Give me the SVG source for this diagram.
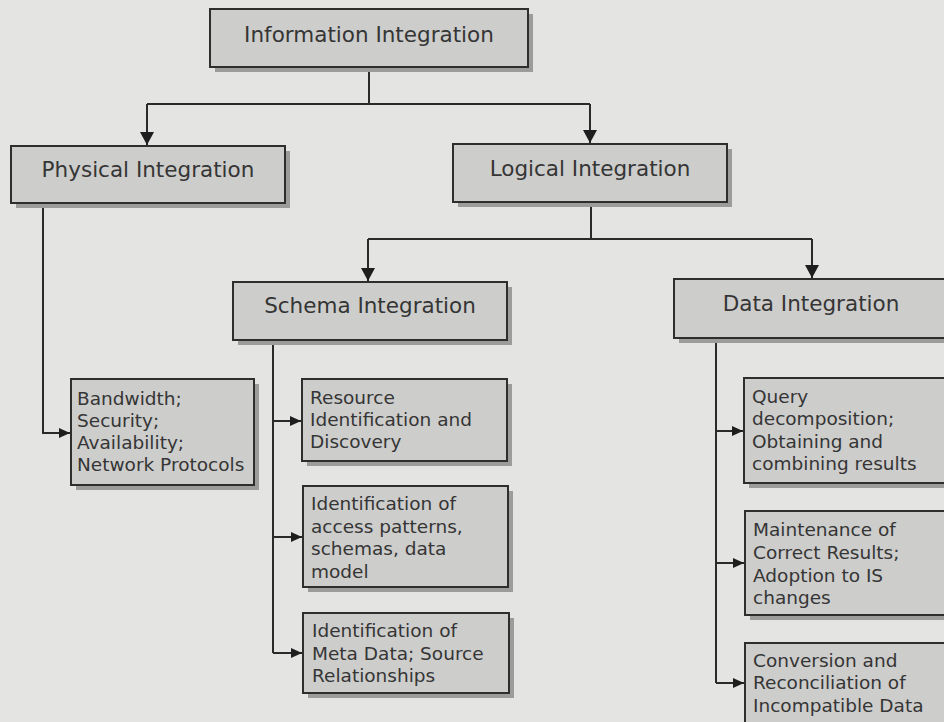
<svg xmlns="http://www.w3.org/2000/svg" width="944" height="722" viewBox="0 0 944 722">
  <style>
    .bg { fill: #e4e4e2; }
    .box { fill: #cdcdcc; stroke: #2e2e2e; stroke-width: 2; }
    .shadow { fill: #9c9c9b; }
    .title { font-family: "DejaVu Sans", Verdana, sans-serif; font-size: 21.5px; fill: #353535; text-anchor: middle; }
    .body { font-family: "DejaVu Sans", Verdana, sans-serif; font-size: 18.5px; fill: #353535; }
    .wire { fill: none; stroke: #2a2a2a; stroke-width: 2; }
  </style>
  <defs>
    <!-- both heads point along +x; orient="auto" turns them with the line -->
    <marker id="down" markerUnits="userSpaceOnUse" markerWidth="14" markerHeight="14" refX="13" refY="7" orient="auto" viewBox="0 0 14 14">
      <path d="M0,0 L13,7 L0,14 Z" fill="#1e1e1e"/>
    </marker>
    <marker id="side" markerUnits="userSpaceOnUse" markerWidth="12" markerHeight="12" refX="11" refY="6" orient="auto" viewBox="0 0 12 12">
      <path d="M0,1 L11,6 L0,11 Z" fill="#1e1e1e"/>
    </marker>
  </defs>

  <rect class="bg" x="0" y="0" width="944" height="722"/>

  <!-- connectors -->
  <g id="connectors">
    <path class="wire" d="M369,67 V104"/>
    <path class="wire" d="M147,104 H590"/>
    <path class="wire" d="M147,104 V145" marker-end="url(#down)"/>
    <path class="wire" d="M590,104 V143" marker-end="url(#down)"/>

    <path class="wire" d="M591,202 V239"/>
    <path class="wire" d="M368,239 H812"/>
    <path class="wire" d="M368,239 V281" marker-end="url(#down)"/>
    <path class="wire" d="M812,239 V278" marker-end="url(#down)"/>

    <path class="wire" d="M43,203 V433 H70" marker-end="url(#side)"/>

    <path class="wire" d="M273,340 V653"/>
    <path class="wire" d="M273,421 H301" marker-end="url(#side)"/>
    <path class="wire" d="M273,537 H302" marker-end="url(#side)"/>
    <path class="wire" d="M273,653 H302" marker-end="url(#side)"/>

    <path class="wire" d="M716,338 V683"/>
    <path class="wire" d="M716,431 H743" marker-end="url(#side)"/>
    <path class="wire" d="M716,563 H744" marker-end="url(#side)"/>
    <path class="wire" d="M716,683 H744" marker-end="url(#side)"/>
  </g>

  <!-- level 0 -->
  <g id="information-integration">
    <rect class="shadow" x="215" y="14" width="318" height="58"/>
    <rect class="box" x="210" y="9" width="318" height="58"/>
    <text class="title" x="369" y="42">Information Integration</text>
  </g>

  <!-- level 1 -->
  <g id="physical-integration">
    <rect class="shadow" x="16" y="151" width="274" height="57"/>
    <rect class="box" x="11" y="146" width="274" height="57"/>
    <text class="title" x="148" y="177">Physical Integration</text>
  </g>
  <g id="logical-integration">
    <rect class="shadow" x="458" y="149" width="274" height="58"/>
    <rect class="box" x="453" y="144" width="274" height="58"/>
    <text class="title" x="590" y="176">Logical Integration</text>
  </g>

  <!-- level 2 -->
  <g id="schema-integration">
    <rect class="shadow" x="238" y="287" width="274" height="58"/>
    <rect class="box" x="233" y="282" width="274" height="58"/>
    <text class="title" x="370" y="313">Schema Integration</text>
  </g>
  <g id="data-integration">
    <rect class="shadow" x="679" y="284" width="274" height="59"/>
    <rect class="box" x="674" y="279" width="274" height="59"/>
    <text class="title" x="811" y="311">Data Integration</text>
  </g>

  <!-- physical details -->
  <g id="physical-details">
    <rect class="shadow" x="76" y="384" width="183" height="106"/>
    <rect class="box" x="71" y="379" width="183" height="106"/>
    <text class="body" x="77" y="405">Bandwidth;</text>
    <text class="body" x="77" y="427">Security;</text>
    <text class="body" x="77" y="449">Availability;</text>
    <text class="body" x="77" y="471">Network Protocols</text>
  </g>

  <!-- schema details -->
  <g id="resource-identification">
    <rect class="shadow" x="307" y="384" width="205" height="82"/>
    <rect class="box" x="302" y="379" width="205" height="82"/>
    <text class="body" x="310" y="404">Resource</text>
    <text class="body" x="310" y="426">Identification and</text>
    <text class="body" x="310" y="448">Discovery</text>
  </g>
  <g id="access-patterns">
    <rect class="shadow" x="308" y="491" width="205" height="101"/>
    <rect class="box" x="303" y="486" width="205" height="101"/>
    <text class="body" x="311" y="510">Identification of</text>
    <text class="body" x="311" y="533">access patterns,</text>
    <text class="body" x="311" y="555">schemas, data</text>
    <text class="body" x="311" y="578">model</text>
  </g>
  <g id="meta-data">
    <rect class="shadow" x="308" y="618" width="206" height="80"/>
    <rect class="box" x="303" y="613" width="206" height="80"/>
    <text class="body" x="312" y="637">Identification of</text>
    <text class="body" x="312" y="660">Meta Data; Source</text>
    <text class="body" x="312" y="682">Relationships</text>
  </g>

  <!-- data details -->
  <g id="query-decomposition">
    <rect class="shadow" x="749" y="383" width="205" height="105"/>
    <rect class="box" x="744" y="378" width="205" height="105"/>
    <text class="body" x="752" y="403">Query</text>
    <text class="body" x="752" y="425">decomposition;</text>
    <text class="body" x="752" y="448">Obtaining and</text>
    <text class="body" x="752" y="470">combining results</text>
  </g>
  <g id="correct-results">
    <rect class="shadow" x="750" y="516" width="205" height="104"/>
    <rect class="box" x="745" y="511" width="205" height="104"/>
    <text class="body" x="753" y="536">Maintenance of</text>
    <text class="body" x="753" y="559">Correct Results;</text>
    <text class="body" x="753" y="582">Adoption to IS</text>
    <text class="body" x="753" y="604">changes</text>
  </g>
  <g id="conversion">
    <rect class="shadow" x="750" y="648" width="205" height="90"/>
    <rect class="box" x="745" y="643" width="205" height="90"/>
    <text class="body" x="753" y="667">Conversion and</text>
    <text class="body" x="753" y="689">Reconciliation of</text>
    <text class="body" x="753" y="712">Incompatible Data</text>
  </g>
</svg>
